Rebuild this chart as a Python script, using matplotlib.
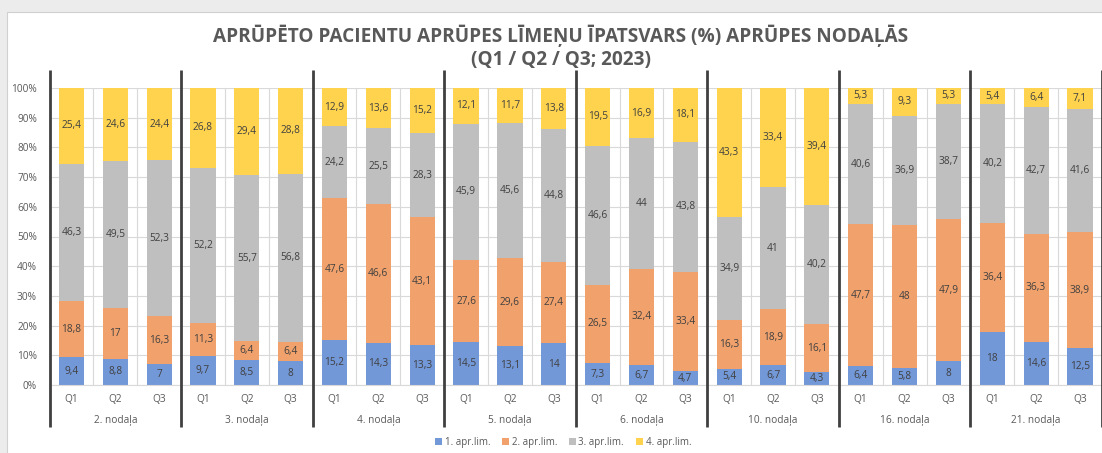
import matplotlib
matplotlib.use("Agg")
import matplotlib.pyplot as plt
import matplotlib.transforms as mtransforms
from matplotlib.patches import Rectangle
import numpy as np

plt.rcParams['font.family'] = ['Open Sans', 'DejaVu Sans']

groups = ["2. nodaļa", "3. nodaļa", "4. nodaļa", "5. nodaļa",
          "6. nodaļa", "10. nodaļa", "16. nodaļa", "21. nodaļa"]
quarters = ["Q1", "Q2", "Q3"]
series_names = ["1. apr.lim.", "2. apr.lim.", "3. apr.lim.", "4. apr.lim."]
colors = ["#7398D8", "#F1A26C", "#BFBFBF", "#FFD34D"]

lvl1 = [9.4, 8.8, 7, 9.7, 8.5, 8, 15.2, 14.3, 13.3, 14.5, 13.1, 14,
        7.3, 6.7, 4.7, 5.4, 6.7, 4.3, 6.4, 5.8, 8, 18, 14.6, 12.5]
lvl2 = [18.8, 17, 16.3, 11.3, 6.4, 6.4, 47.6, 46.6, 43.1, 27.6, 29.6, 27.4,
        26.5, 32.4, 33.4, 16.3, 18.9, 16.1, 47.7, 48, 47.9, 36.4, 36.3, 38.9]
lvl3 = [46.3, 49.5, 52.3, 52.2, 55.7, 56.8, 24.2, 25.5, 28.3, 45.9, 45.6, 44.8,
        46.6, 44, 43.8, 34.9, 41, 40.2, 40.6, 36.9, 38.7, 40.2, 42.7, 41.6]
lvl4 = [25.4, 24.6, 24.4, 26.8, 29.4, 28.8, 12.9, 13.6, 15.2, 12.1, 11.7, 13.8,
        19.5, 16.9, 18.1, 43.3, 33.4, 39.4, 5.3, 9.3, 5.3, 5.4, 6.4, 7.1]

series = [lvl1, lvl2, lvl3, lvl4]

W, H = 1102, 453
fig = plt.figure(figsize=(W / 100, H / 100), dpi=100, facecolor="#ececec")

# white chart panel
panel = Rectangle((7 / W, -0.01), 1, (H - 12) / H + 0.01, transform=fig.transFigure,
                  facecolor="white", edgecolor="#d0d0d0", linewidth=0.8, zorder=-5)
fig.add_artist(panel)

n = len(groups) * len(quarters)
x0_px, slot_px = 49.5, 43.85
y0_px, y100_px = 385.0, 88.0
ax = fig.add_axes([x0_px / W, (H - y0_px) / H, n * slot_px / W, (y0_px - y100_px) / H])
ax.set_facecolor("none")
ax.set_zorder(2)

x = np.arange(n)
data = np.array(series, dtype=float)
totals = data.sum(axis=0)
pct = data / totals * 100

bottom = np.zeros(n)
for i, (vals, p) in enumerate(zip(series, pct)):
    ax.bar(x, p, bottom=bottom, width=0.575, color=colors[i], zorder=2, linewidth=0)
    for xi, v, b, h in zip(x, vals, bottom, p):
        s = (f"{v:g}").replace(".", ",")
        ax.text(xi, b + h / 2, s, ha="center", va="center", fontsize=7.3,
                color="#404040", zorder=3)
    bottom += p

ax.set_xlim(-0.5, n - 0.5)
ax.set_ylim(0, 100)
ax.set_yticks(np.arange(0, 101, 10))
ax.set_yticklabels([f"{t}%" for t in range(0, 101, 10)], fontsize=7.3, color="#595959")
ax.tick_params(axis="y", length=0, pad=9)
ax.set_xticks([])
ax.grid(axis="y", color="#d9d9d9", linewidth=0.8, zorder=0)
for s in ["top", "right", "left"]:
    ax.spines[s].set_visible(False)
ax.spines["bottom"].set_color("#d9d9d9")

trans = mtransforms.blended_transform_factory(ax.transData, ax.transAxes)
# thin vertical gridlines between quarters
for b in np.arange(-0.5, n, 1.0):
    ax.plot([b, b], [0, 1], color="#d9d9d9", linewidth=0.8, transform=trans, zorder=1,
            clip_on=False)

# group separators
top_ax = (y0_px - 70) / (y0_px - y100_px)
bot_ax = (y0_px - 427) / (y0_px - y100_px)
for g in range(len(groups) + 1):
    b = g * 3 - 0.5
    ax.plot([b, b], [bot_ax, top_ax], color="#404040", linewidth=2.0, transform=trans,
            clip_on=False, zorder=4, solid_capstyle="butt")

q_y = (y0_px - 400) / (y0_px - y100_px)
g_y = (y0_px - 421) / (y0_px - y100_px)
for g, name in enumerate(groups):
    for q, ql in enumerate(quarters):
        ax.text(g * 3 + q, q_y, ql, ha="center", va="center", fontsize=7.3,
                color="#595959", transform=trans, clip_on=False)
    ax.text(g * 3 + 1, g_y, name, ha="center", va="center", fontsize=7.3,
            color="#595959", transform=trans, clip_on=False)

# title
fig.text(561 / W, 1 - 36 / H, "APRŪPĒTO PACIENTU APRŪPES LĪMEŅU ĪPATSVARS (%) APRŪPES NODAĻĀS",
         ha="center", va="center", fontsize=13.7, fontweight="bold", color="#595959")
fig.text(561 / W, 1 - 60 / H, "(Q1 / Q2 / Q3; 2023)",
         ha="center", va="center", fontsize=13.7, fontweight="bold", color="#595959")

# legend
handles = [Rectangle((0, 0), 1, 1, facecolor=c, edgecolor="none") for c in colors]
fig.legend(handles, series_names, loc="center", bbox_to_anchor=(563 / W, 1 - 442 / H),
           ncol=4, frameon=False, fontsize=7, labelcolor="#595959",
           handlelength=0.7, handleheight=0.7, handletextpad=0.3, columnspacing=1.2)

fig.savefig("out.png", dpi=100, facecolor=fig.get_facecolor())
